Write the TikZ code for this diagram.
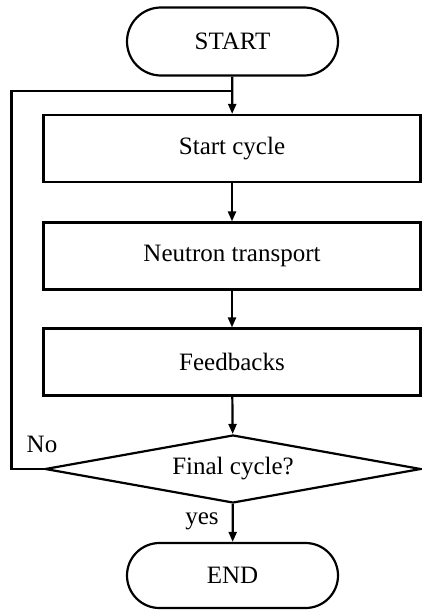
\documentclass[tikz,border=0pt]{standalone}
\usepackage{fontspec}
\setmainfont{Liberation Serif}
\usetikzlibrary{shapes.geometric,shapes.misc,arrows.meta}
\begin{document}
\begin{tikzpicture}[x=1pt,y=-1pt,
  every node/.style={font=\fontsize{25}{30}\selectfont},
  line/.style={line width=2.2pt},
  term/.style={line, draw, rounded rectangle, minimum width=211pt, minimum height=68pt, inner sep=0pt},
  procbox/.style={line, draw, rectangle, minimum width=377pt, minimum height=67pt, inner sep=0pt},
  decide/.style={line, draw, diamond, aspect=5.53, minimum width=376pt, minimum height=68pt, inner sep=0pt},
  arr/.style={line, -{Triangle[length=10pt,width=8pt]}},
  lbl/.style={inner sep=0pt}
]
\useasboundingbox (0,0) rectangle (422,610);
\node[term] (start) at (232.5,41.5) {START};
\node[procbox] (cycle) at (232,148.5) {Start cycle};
\node[procbox] (neutron) at (232,256) {Neutron transport};
\node[procbox] (feed) at (232,362) {Feedbacks};
\node[decide] (final) at (233,469) {Final cycle?};
\node[term, minimum height=65pt] (end) at (232.5,575.5) {END};
\coordinate (corner) at (11.5,91);
\coordinate (join) at (232,91);
\draw[arr] (start) -- (cycle);
\draw[arr] (cycle) -- (neutron);
\draw[arr] (neutron) -- (feed);
\draw[arr] (feed) -- (final);
\draw[arr] (final) -- (end);
\draw[line] (final.west) -| (corner) -- (join);
\node[lbl] (no) at (42,444) {No};
\node[lbl] (yes) at (202,521) {yes};
\end{tikzpicture}
\end{document}
